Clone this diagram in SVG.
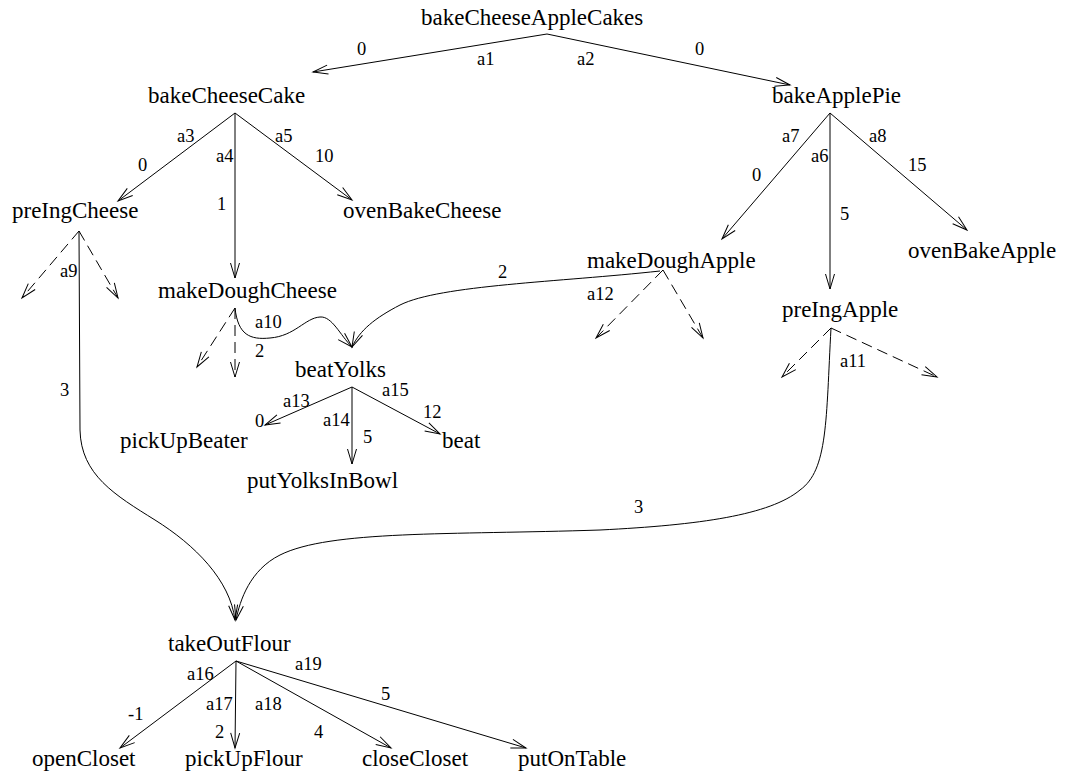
<svg xmlns="http://www.w3.org/2000/svg" width="1065" height="780" viewBox="0 0 1065 780">
<style>
.n{font-family:"Liberation Serif","Times New Roman",serif;font-size:23px;fill:#000}
.l{font-family:"Liberation Serif","Times New Roman",serif;font-size:18.5px;fill:#000}
.e{fill:none;stroke:#000;stroke-width:1;marker-end:url(#ah)}
.d{fill:none;stroke:#000;stroke-width:1;stroke-dasharray:11 6;marker-end:url(#ah)}
</style>
<defs>
<marker id="ah" markerUnits="userSpaceOnUse" viewBox="-17 -7 19 14" markerWidth="19" markerHeight="14" refX="0" refY="0" orient="auto">
<path d="M-15,-4.5 L0,0 L-15,4.5" fill="none" stroke="#000" stroke-width="1" stroke-dasharray="none"/>
</marker>
</defs>
<rect width="1065" height="780" fill="#fff"/>
<g id="connectors">
<g id="e-a1"><path class="e" d="M547,34 L313,72"/><text class="l" x="357" y="55">0</text><text class="l" x="477" y="65">a1</text></g>
<g id="e-a2"><path class="e" d="M547,34 L790,85"/><text class="l" x="577" y="65">a2</text><text class="l" x="695" y="55">0</text></g>
<g id="e-a3"><path class="e" d="M235,113 L118,201"/><text class="l" x="177" y="142">a3</text><text class="l" x="138" y="171">0</text></g>
<g id="e-a4"><path class="e" d="M235,113 L235,278"/><text class="l" x="216" y="162">a4</text><text class="l" x="217" y="210">1</text></g>
<g id="e-a5"><path class="e" d="M235,113 L352,200"/><text class="l" x="275" y="142">a5</text><text class="l" x="315" y="162">10</text></g>
<g id="e-a7"><path class="e" d="M830,113 L722,239"/><text class="l" x="782" y="142">a7</text><text class="l" x="752" y="181">0</text></g>
<g id="e-a6"><path class="e" d="M830,113 L830,289"/><text class="l" x="811" y="162">a6</text><text class="l" x="840" y="220">5</text></g>
<g id="e-a8"><path class="e" d="M830,113 L967,230"/><text class="l" x="869" y="142">a8</text><text class="l" x="908" y="171">15</text></g>
<g id="e-preIngCheese-dashed"><path class="d" d="M79,231 L22,298"/><path class="d" d="M79,231 L118,298"/></g>
<g id="e-a9"><path class="e" d="M79,231 L80,430 C81,475 115,495 155,520 S230,580 235,620"/><text class="l" x="60" y="277">a9</text><text class="l" x="60" y="396">3</text></g>
<g id="e-makeDoughCheese-dashed"><path class="d" d="M235,308 L197,367"/><path class="d" d="M235,308 L235,377"/></g>
<g id="e-a10"><path class="e" d="M235,308 C238,335 250,340 270,338 C295,336 305,318 320,317 C332,316 340,335 352,347"/><text class="l" x="255" y="328">a10</text><text class="l" x="255" y="357">2</text></g>
<g id="e-makeDoughApple-dashed"><path class="d" d="M663,270 L596,338"/><path class="d" d="M663,270 L703,338"/></g>
<g id="e-a12"><path class="e" d="M660,271 C560,282 440,285 400,305 C375,318 360,330 352,347"/><text class="l" x="498" y="278">2</text><text class="l" x="587" y="300">a12</text></g>
<g id="e-preIngApple-dashed"><path class="d" d="M831,328 L782,377"/><path class="d" d="M831,328 L937,377"/></g>
<g id="e-a11"><path class="e" d="M831,328 C826,420 828,470 800,490 C770,515 700,525 600,530 C450,535 330,530 280,555 C250,570 240,600 236,620"/><text class="l" x="840" y="367">a11</text><text class="l" x="634" y="513">3</text></g>
<g id="e-a13"><path class="e" d="M352,387 L265,425"/><text class="l" x="283" y="407">a13</text><text class="l" x="255" y="427">0</text></g>
<g id="e-a14"><path class="e" d="M352,387 L352,464"/><text class="l" x="323" y="426">a14</text><text class="l" x="363" y="443">5</text></g>
<g id="e-a15"><path class="e" d="M352,387 L440,434"/><text class="l" x="382" y="396">a15</text><text class="l" x="423" y="418">12</text></g>
<g id="e-a16"><path class="e" d="M236,661 L120,748"/><text class="l" x="187" y="680">a16</text><text class="l" x="128" y="720">-1</text></g>
<g id="e-a17"><path class="e" d="M236,661 L235,748"/><text class="l" x="206" y="710">a17</text><text class="l" x="215" y="738">2</text></g>
<g id="e-a18"><path class="e" d="M236,661 L391,748"/><text class="l" x="255" y="710">a18</text><text class="l" x="314" y="738">4</text></g>
<g id="e-a19"><path class="e" d="M236,661 L526,748"/><text class="l" x="295" y="670">a19</text><text class="l" x="381" y="700">5</text></g>
</g>
<g id="bakeCheeseAppleCakes"><text class="n" x="421" y="25">bakeCheeseAppleCakes</text></g>
<g id="bakeCheeseCake"><text class="n" x="148" y="103">bakeCheeseCake</text></g>
<g id="bakeApplePie"><text class="n" x="772" y="103">bakeApplePie</text></g>
<g id="preIngCheese"><text class="n" x="12" y="218">preIngCheese</text></g>
<g id="ovenBakeCheese"><text class="n" x="343" y="218">ovenBakeCheese</text></g>
<g id="makeDoughCheese"><text class="n" x="158" y="298">makeDoughCheese</text></g>
<g id="makeDoughApple"><text class="n" x="587" y="268">makeDoughApple</text></g>
<g id="ovenBakeApple"><text class="n" x="908" y="258">ovenBakeApple</text></g>
<g id="preIngApple"><text class="n" x="782" y="317">preIngApple</text></g>
<g id="beatYolks"><text class="n" x="295" y="377">beatYolks</text></g>
<g id="pickUpBeater"><text class="n" x="120" y="448">pickUpBeater</text></g>
<g id="beat"><text class="n" x="442" y="448">beat</text></g>
<g id="putYolksInBowl"><text class="n" x="247" y="488">putYolksInBowl</text></g>
<g id="takeOutFlour"><text class="n" x="168" y="651">takeOutFlour</text></g>
<g id="openCloset"><text class="n" x="32" y="766">openCloset</text></g>
<g id="pickUpFlour"><text class="n" x="185" y="766">pickUpFlour</text></g>
<g id="closeCloset"><text class="n" x="362" y="766">closeCloset</text></g>
<g id="putOnTable"><text class="n" x="518" y="766">putOnTable</text></g>
</svg>
